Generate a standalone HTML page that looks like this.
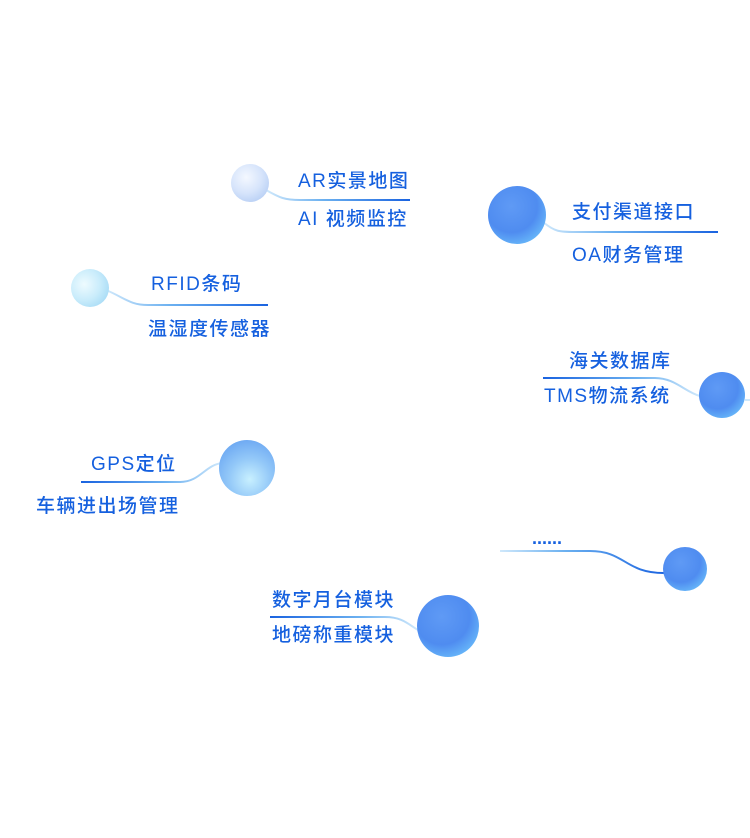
<!DOCTYPE html>
<html><head><meta charset="utf-8"><style>
html,body{margin:0;padding:0;background:#fff;width:750px;height:838px;overflow:hidden;position:relative}
.t{position:absolute;font-family:"Liberation Sans","Noto Sans CJK SC",sans-serif;font-size:19px;font-weight:500;line-height:20px;color:#1560df;white-space:nowrap;letter-spacing:1.5px}
svg{position:absolute;left:0;top:0}
</style></head><body>
<svg width="750" height="838">
<defs>
<radialGradient id="pale" cx="0.4" cy="0.35" r="0.7"><stop offset="0" stop-color="#f4f8ff"/><stop offset="0.6" stop-color="#d6e4fb"/><stop offset="1" stop-color="#b9d0f5"/></radialGradient>
<radialGradient id="cyan" cx="0.35" cy="0.4" r="0.7"><stop offset="0" stop-color="#eefbff"/><stop offset="0.6" stop-color="#c9ecfb"/><stop offset="1" stop-color="#a9dcf6"/></radialGradient>
<radialGradient id="blue" cx="0.4" cy="0.35" r="0.75"><stop offset="0" stop-color="#5f9af5"/><stop offset="0.6" stop-color="#4f8cf0"/><stop offset="1" stop-color="#6cc0fb"/></radialGradient>
<radialGradient id="lblue" cx="0.55" cy="0.7" r="0.75"><stop offset="0" stop-color="#c8f0ff"/><stop offset="0.5" stop-color="#93c8f8"/><stop offset="1" stop-color="#6aa6f2"/></radialGradient>
<linearGradient id="lg1" x1="0" x2="1"><stop offset="0" stop-color="#cfe8fb"/><stop offset="0.4" stop-color="#6bb0f0"/><stop offset="1" stop-color="#1a63e0"/></linearGradient>
<linearGradient id="lg2" x1="1" x2="0"><stop offset="0" stop-color="#cfe8fb"/><stop offset="0.4" stop-color="#6bb0f0"/><stop offset="1" stop-color="#1a63e0"/></linearGradient>
</defs>
<g fill="none" stroke-width="2">
<path d="M266 190 C280 198 285 200 300 200 L410 200" stroke="url(#lg1)"/>
<path d="M543 222 C555 232 560 232 575 232 L718 232" stroke="url(#lg1)"/>
<path d="M106 290 C125 298 130 305 148 305 L268 305" stroke="url(#lg1)"/>
<path d="M543 378 L655 378 C675 378 685 392 700 396" stroke="url(#lg2)"/>
<path d="M745 400 L750 400" stroke="#cfe8fb"/>
<path d="M81 482 L180 482 C200 482 205 465 222 463" stroke="url(#lg2)"/>
<path d="M500 551 L590 551 C625 551 625 573 664 573" stroke="url(#lg1)"/>
<path d="M270 617 L385 617 C402 617 408 624 418 630" stroke="url(#lg2)"/>
</g>
<circle cx="250" cy="183" r="19" fill="url(#pale)"/>
<circle cx="517" cy="215" r="29" fill="url(#blue)"/>
<circle cx="90" cy="288" r="19" fill="url(#cyan)"/>
<circle cx="722" cy="395" r="23" fill="url(#blue)"/>
<circle cx="247" cy="468" r="28" fill="url(#lblue)"/>
<circle cx="685" cy="569" r="22" fill="url(#blue)"/>
<circle cx="448" cy="626" r="31" fill="url(#blue)"/>
</svg>
<div class="t" style="left:298px;top:172px">AR实景地图</div>
<div class="t" style="left:298px;top:210px">AI 视频监控</div>
<div class="t" style="left:572px;top:203px">支付渠道接口</div>
<div class="t" style="left:572px;top:246px">OA财务管理</div>
<div class="t" style="left:151px;top:275px">RFID条码</div>
<div class="t" style="left:148px;top:320px">温湿度传感器</div>
<div class="t" style="left:569px;top:352px">海关数据库</div>
<div class="t" style="left:544px;top:387px">TMS物流系统</div>
<div class="t" style="left:91px;top:455px">GPS定位</div>
<div class="t" style="left:36px;top:497px">车辆进出场管理</div>
<div class="t" style="left:532px;top:528px;font-size:18px;font-weight:bold;letter-spacing:0">......</div>
<div class="t" style="left:272px;top:591px">数字月台模块</div>
<div class="t" style="left:272px;top:626px">地磅称重模块</div>
</body></html>
